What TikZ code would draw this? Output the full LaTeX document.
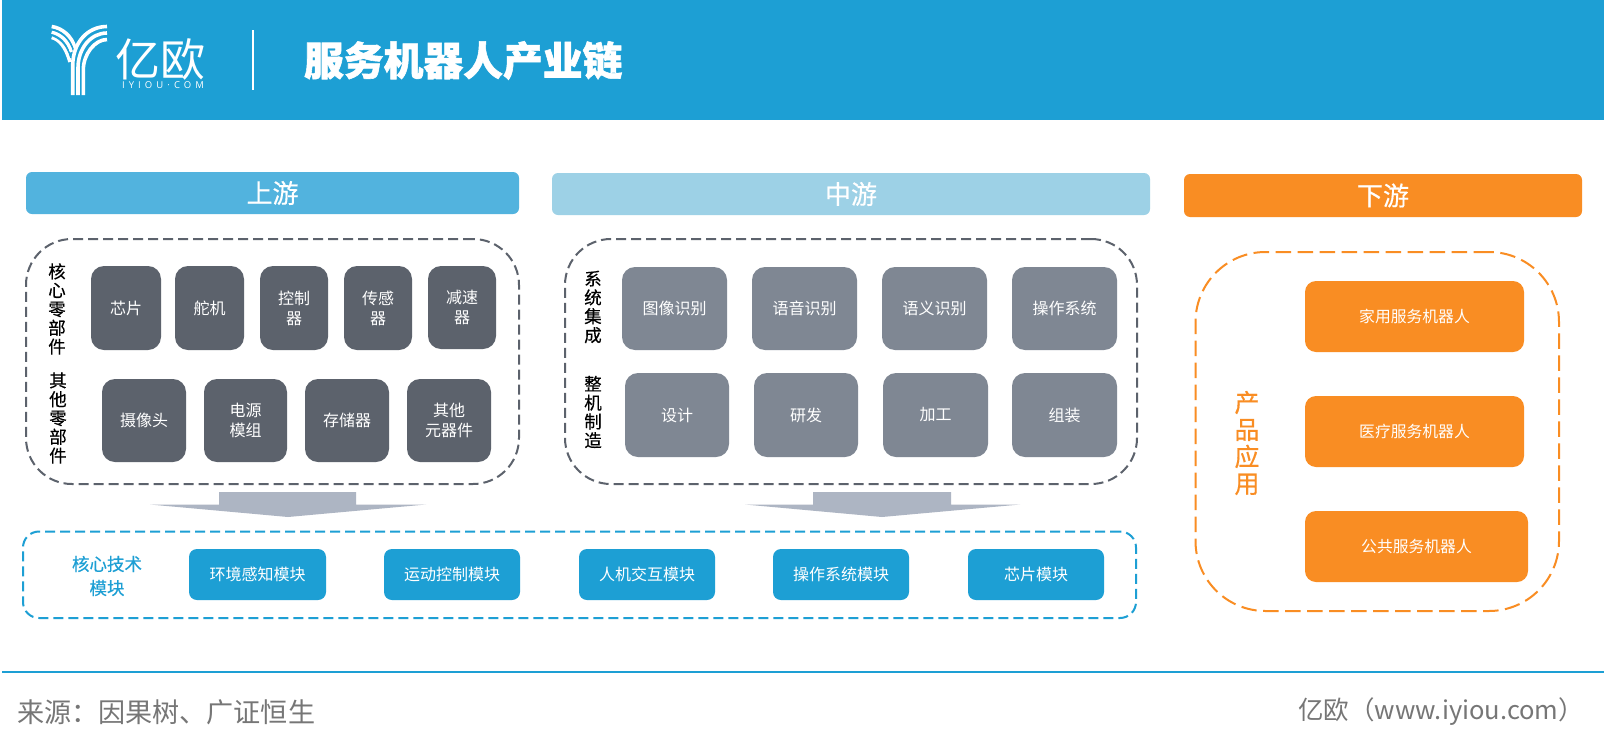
\documentclass[tikz,border=0pt]{standalone}
\usepackage{fontspec}
\setmainfont{Noto Sans CJK SC}
\newfontfamily\latinlogo[LetterSpace=43]{Open Sans}
\newfontfamily\medfont[FakeBold=0.4]{Noto Sans CJK SC}
\newfontfamily\heavyfont[BoldFeatures={FakeBold=1.4}]{Noto Sans CJK SC}
\definecolor{hdrblue}{HTML}{1D9FD4}
\definecolor{upbar}{HTML}{52B3DE}
\definecolor{midbar}{HTML}{9DD1E6}
\definecolor{orangeb}{HTML}{F98D23}
\definecolor{darkbox}{HTML}{5C626C}
\definecolor{midbox}{HTML}{7F8793}
\definecolor{arrowc}{HTML}{ADB5C3}
\definecolor{footc}{HTML}{767676}
\newcommand{\fs}[1]{\fontsize{#1}{#1}\selectfont}
\newcommand{\bx}[7]{%
  \pgfmathsetmacro{\cxv}{(#2+#4)/2}\pgfmathsetmacro{\cyv}{(#3+#5)/2}%
  \pgfmathsetmacro{\wv}{#4-#2}\pgfmathsetmacro{\hv}{#5-#3}%
  \node[#6,minimum width=\wv pt,minimum height=\hv pt] (#1) at (\cxv,\cyv) {#7};}
\tikzset{
  x=1pt,y=-1pt,
  base/.style={inner sep=0pt,outer sep=0pt,align=center},
  bar/.style={base,rounded corners=6pt,text=white,font=\medfont\fs{26}},
  upb/.style={bar,fill=upbar},
  midb/.style={bar,fill=midbar},
  downb/.style={bar,fill=orangeb},
  dk/.style={base,fill=darkbox,rounded corners=13pt,text=white,font=\fontsize{16}{20}\selectfont},
  md/.style={base,fill=midbox,rounded corners=13pt,text=white,font=\fs{16}},
  tech/.style={base,fill=hdrblue,rounded corners=8pt,text=white,font=\fs{16}},
  prod/.style={base,fill=orangeb,rounded corners=11pt,text=white,font=\fs{15.8}},
  frame/.style={base,draw,line width=2pt,dash pattern=on 10pt off 5pt},
  orangeframe/.style={base,draw=orangeb,line width=2pt,dash pattern=on 15.5pt off 6.5pt},
  vlab/.style={base,text=black,font=\medfont\fontsize{17.5}{18.8}\selectfont},
  logoline/.style={draw=white,line width=3.6pt},
  arrowb/.style={fill=arrowc,draw=none},
}
\begin{document}
\begin{tikzpicture}
\useasboundingbox (0,0) rectangle (1604,750);
\fill[white] (0,0) rectangle (1604,750);
% header
\bx{header}{2}{0}{1604}{120}{base,fill=hdrblue}{}
\draw[logoline] (51.7,26.5) .. controls (62,28) and (72,36) .. (75,48);
\draw[logoline] (51.7,32) .. controls (60,34) and (68,40) .. (71.5,52);
\draw[logoline] (51.7,37.5) .. controls (59,39) and (66,47) .. (70,62);
\draw[hdrblue,line width=1.4pt] (50,29.4) .. controls (61,31) and (70,38) .. (74,52);
\draw[hdrblue,line width=1.4pt] (50,35) .. controls (59,37) and (67,44) .. (71,58);
\draw[logoline] (72.7,95) -- (72.7,66) .. controls (72.7,42) and (88,26.5) .. (107,26.5);
\draw[logoline] (78,95) -- (78,68) .. controls (78,48) and (91,33) .. (107,33);
\draw[logoline] (83.3,95) -- (83.3,70) .. controls (83.3,54) and (95,39.5) .. (107,39.5);
\node[base,text=white,font=\fs{45}] (logotxt) at (160,59) {亿欧};
\node[base,text=white,font=\latinlogo\fs{9.5}] (logourl) at (163,85) {IYIOU·COM};
\coordinate (divt) at (253,30); \coordinate (divb) at (253,90);
\draw[white,line width=1.6pt] (divt) -- (divb);
\node[base,text=white,font=\heavyfont\fs{39.8}\bfseries,anchor=west] (title) at (304,60.5) {服务机器人产业链};
% bars
\bx{up}{26}{172}{519}{214}{upb}{上游}
\bx{mid}{552}{173}{1150}{215}{midb}{中游}
\bx{down}{1184}{174}{1582}{217}{downb}{下游}
% upstream
\bx{upframe}{26}{239}{519}{484}{frame,draw=darkbox,rounded corners=46pt}{}
\node[vlab] (l1) at (57,309) {核\\心\\零\\部\\件};
\node[vlab] (l2) at (58,418) {其\\他\\零\\部\\件};
\bx{u1}{91}{266}{161}{350}{dk}{芯片}
\bx{u2}{175}{266}{244}{350}{dk}{舵机}
\bx{u3}{260}{266}{328}{350}{dk}{控制\\器}
\bx{u4}{344}{266}{412}{350}{dk}{传感\\器}
\bx{u5}{428}{266}{496}{349}{dk}{减速\\器}
\bx{u6}{102}{379}{186}{462}{dk}{摄像头}
\bx{u7}{204}{379}{287}{462}{dk}{电源\\模组}
\bx{u8}{305}{379}{389}{462}{dk}{存储器}
\bx{u9}{407}{379}{491}{462}{dk}{其他\\元器件}
% midstream
\bx{midframe}{565}{239}{1137}{484}{frame,draw=darkbox,rounded corners=46pt}{}
\node[vlab] (l3) at (593,307) {系\\统\\集\\成};
\node[vlab] (l4) at (593,412) {整\\机\\制\\造};
\bx{m1}{622}{267}{727}{350}{md}{图像识别}
\bx{m2}{752}{267}{857}{350}{md}{语音识别}
\bx{m3}{882}{267}{987}{350}{md}{语义识别}
\bx{m4}{1012}{267}{1117}{350}{md}{操作系统}
\bx{m5}{625}{373}{729}{457}{md}{\raisebox{-3pt}{设计}}
\bx{m6}{754}{373}{858}{457}{md}{\raisebox{-3pt}{研发}}
\bx{m7}{883}{373}{988}{457}{md}{\raisebox{-3pt}{加工}}
\bx{m8}{1012}{373}{1117}{457}{md}{\raisebox{-3pt}{组装}}
% arrows
\fill[arrowb] (219,492) -- (356,492) -- (356,504.5) -- (426,504.5) -- (288,517) -- (150,504.5) -- (219,504.5) -- cycle;
\fill[arrowb] (813,492) -- (951,492) -- (951,504.5) -- (1020,504.5) -- (882,517) -- (745,504.5) -- (813,504.5) -- cycle;
% core tech
\bx{techframe}{23}{531.5}{1136}{618}{frame,draw=hdrblue,rounded corners=16pt}{}
\node[base,text=hdrblue,font=\medfont\fontsize{17.5}{24}\selectfont] (techlab) at (107,576) {核心技术\\模块};
\bx{t1}{189}{549}{326}{600}{tech}{环境感知模块}
\bx{t2}{384}{549}{520}{600}{tech}{运动控制模块}
\bx{t3}{579}{549}{715}{600}{tech}{人机交互模块}
\bx{t4}{773}{549}{909}{600}{tech}{操作系统模块}
\bx{t5}{968}{549}{1104}{600}{tech}{芯片模块}
% downstream
\bx{downframe}{1195.5}{252}{1559}{611}{orangeframe,rounded corners=70pt}{}
\node[base,text=orangeb,font=\medfont\fontsize{25}{27}\selectfont] (plab) at (1247,443) {产\\品\\应\\用};
\bx{p1}{1305}{281}{1524}{352}{prod}{家用服务机器人}
\bx{p2}{1305}{396}{1524}{467}{prod}{医疗服务机器人}
\bx{p3}{1305}{511}{1528}{582}{prod}{公共服务机器人}
% footer
\coordinate (fl) at (2,672); \coordinate (fr) at (1604,672);
\draw[hdrblue,line width=2.8pt] (fl) -- (fr);
\node[base,text=footc,font=\fs{27.1},anchor=west] (src) at (17,712) {来源：因果树、广证恒生};
\node[base,text=footc,font=\fs{25.5},anchor=east] (brand) at (1584,712) {亿欧（www.iyiou.com）};
\end{tikzpicture}
\end{document}
